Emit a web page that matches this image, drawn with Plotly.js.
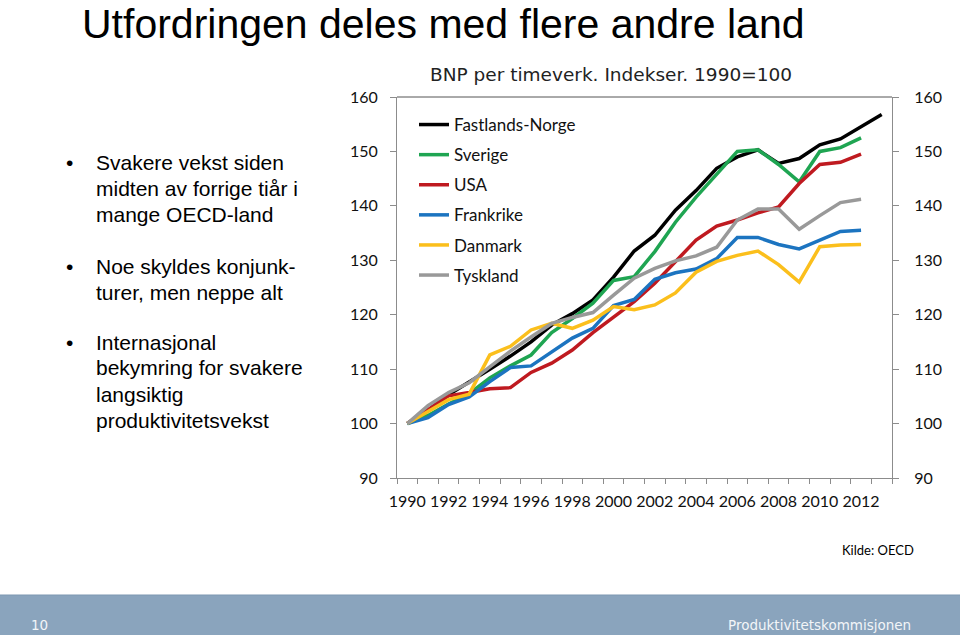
<!DOCTYPE html>
<html>
<head>
<meta charset="utf-8">
<script src="https://cdn.plot.ly/plotly-3.0.1.min.js"></script>
<style>
html,body{margin:0;padding:0;background:#fff;}
#chart{width:960px;height:635px;}
</style>
</head>
<body>
<div id="chart"></div>
<script>
// ---- data ----
const years = [1990,1991,1992,1993,1994,1995,1996,1997,1998,1999,2000,2001,2002,2003,2004,2005,2006,2007,2008,2009,2010,2011,2012,2013];
const norway  = [100,102.4,105.3,107.6,110.0,112.4,115.0,118.1,120.2,122.7,126.9,131.7,134.6,139.2,142.8,146.9,149.0,150.3,147.8,148.7,151.2,152.3,154.5,156.8];
const sweden  = [100,101.5,103.6,105.5,108.4,110.6,112.6,116.7,119.3,122.1,126.3,127.0,131.6,137.0,141.6,145.8,150.0,150.3,147.6,144.4,150.0,150.7,152.5];
const usa     = [100,102.5,105.1,105.7,106.4,106.6,109.4,111.1,113.5,116.7,119.6,122.4,125.8,129.7,133.7,136.3,137.4,138.7,139.8,144.1,147.6,148.0,149.5];
const france  = [100,101.1,103.5,104.9,107.7,110.3,110.6,113.1,115.7,117.5,121.7,122.8,126.5,127.7,128.4,130.3,134.2,134.2,132.9,132.1,133.7,135.3,135.5];
const denmark = [100,102.2,104.4,105.4,112.6,114.2,117.2,118.4,117.5,119.0,121.5,120.9,121.8,124.0,127.8,129.8,130.9,131.7,129.2,126.0,132.5,132.8,132.9];
const germany = [100,103.3,105.7,107.5,110.4,113.3,115.9,118.4,119.5,120.4,123.6,126.7,128.5,129.9,130.8,132.4,137.4,139.4,139.4,135.7,138.2,140.6,141.2];

const seriesNames = ["Fastlands-Norge","Sverige","USA","Frankrike","Danmark","Tyskland"];
const seriesData  = [norway, sweden, usa, france, denmark, germany];
const seriesColors = ["#000000","#1fa552","#bf1a20","#1c74c0","#fbbf1c","#999999"];

const yTicks = [90,100,110,120,130,140,150,160];
const xLabels = [1990,1992,1994,1996,1998,2000,2002,2004,2006,2008,2010,2012];

const heading = "Utfordringen deles med flere andre land";
const chartTitle = "BNP per timeverk. Indekser. 1990=100";
const bullets = [
  ["Svakere vekst siden","midten av forrige tiår i","mange OECD-land"],
  ["Noe skyldes konjunk-","turer, men neppe alt"],
  ["Internasjonal","bekymring for svakere","langsiktig","produktivitetsvekst"]
];
const source = "Kilde: OECD";
const pageNo = "10";
const org = "Produktivitetskommisjonen";

// ---- layout geometry ----
const L = 397, R = 892, T = 97, B = 478;
const W = R - L, H = B - T;
const px = x => (x - L) / W;
const py = y => (B - y) / H;

const traces = seriesNames.map((name, i) => ({
  type: 'scatter', mode: 'lines', name: name,
  x: years.slice(0, seriesData[i].length), y: seriesData[i],
  line: {color: seriesColors[i], width: 3.5},
  legendgroup: 'g' + i,
  xaxis: 'x', yaxis: 'y'
}));
traces.push({type:'scatter', x:[], y:[], xaxis:'x2', yaxis:'y2', showlegend:false, hoverinfo:'skip'});

const annotations = [];
annotations.push({text: heading, xref:'paper', yref:'paper', x: px(81), y: py(0),
  xanchor:'left', yanchor:'top', showarrow:false, borderpad:0,
  font:{family:'Liberation Sans, Arial', size:41, color:'#000'}});

const bulletStarts = [162, 266, 342];
bullets.forEach((group, g) => {
  annotations.push({text:'•', xref:'paper', yref:'paper', x: px(64), y: py(bulletStarts[g]),
    xanchor:'left', yanchor:'middle', showarrow:false,
    font:{family:'Liberation Sans, Arial', size:21, color:'#000'}});
  group.forEach((line, k) => {
    annotations.push({text: line, xref:'paper', yref:'paper', x: px(94), y: py(bulletStarts[g] + 26*k),
      xanchor:'left', yanchor:'middle', showarrow:false,
      font:{family:'Liberation Sans, Arial', size:21, color:'#000'}});
  });
});
annotations.push({text: source, xref:'paper', yref:'paper', x: px(916), y: py(550),
  xanchor:'right', yanchor:'middle', showarrow:false,
  font:{family:'Lato, Open Sans', size:13, color:'#000'}});
annotations.push({text: pageNo, xref:'paper', yref:'paper', x: px(29), y: py(625),
  xanchor:'left', yanchor:'middle', showarrow:false,
  font:{family:'DejaVu Sans', size:13.5, color:'#f2f5f8'}});
annotations.push({text: org, xref:'paper', yref:'paper', x: px(913), y: py(625),
  xanchor:'right', yanchor:'middle', showarrow:false,
  font:{family:'DejaVu Sans', size:13.5, color:'#f2f5f8'}});

const shapes = [
  {type:'rect', xref:'paper', yref:'paper', x0: px(0), x1: px(960), y0: py(595), y1: py(636),
   fillcolor:'#8aa4bd', line:{width:0}, layer:'below'},
  {type:'line', xref:'paper', yref:'paper', x0: px(0), x1: px(960), y0: py(595), y1: py(595),
   line:{color:'#7c97b1', width:1}},
  {type:'line', xref:'paper', yref:'paper', x0: 0, x1: 1, y0: 1, y1: 1,
   line:{color:'#555', width:1}}
];

const tickFont = {family:'Lato, Open Sans', size:16, color:'#111'};

const layout = {
  width: 960, height: 635,
  margin: {l: L, r: 960 - R, t: T, b: 635 - B, pad: 0},
  paper_bgcolor:'#fff', plot_bgcolor:'#fff',
  showlegend: true,
  title: {text: chartTitle, font:{family:'DejaVu Sans', size:18.5, color:'#222'},
    xref:'container', yref:'container', x: 611/960, y: 1 - 75/635, xanchor:'center', yanchor:'middle'},
  xaxis: {range:[1989.5, 2013.5], tick0: 1989.5, dtick: 1, ticks:'outside', ticklen:5, tickcolor:'#8c8c8c',
    showticklabels:false, showgrid:false, zeroline:false, showline:true, linecolor:'#8c8c8c', linewidth:1, fixedrange:true},
  xaxis2: {overlaying:'x', anchor:'y', side:'bottom', range:[1989.5, 2013.5], tickmode:'array', tickvals: xLabels,
    ticktext: xLabels.map(String), ticks:'', showgrid:false, zeroline:false, showline:false,
    tickfont: tickFont, ticklabelstandoff: 12},
  yaxis: {range:[90,160], tickmode:'array', tickvals: yTicks, ticks:'outside', ticklen:6, tickcolor:'#8c8c8c',
    showgrid:false, zeroline:false, showline:true, linecolor:'#8c8c8c', linewidth:1, tickfont: tickFont,
    ticklabelstandoff: 9},
  yaxis2: {overlaying:'y', side:'right', anchor:'x', range:[90,160], tickmode:'array', tickvals: yTicks, ticks:'outside', ticklen:6,
    tickcolor:'#8c8c8c', showgrid:false, zeroline:false, showline:true, linecolor:'#8c8c8c', linewidth:1, tickfont: tickFont,
    ticklabelstandoff: 12},
  legend: {x: px(414), y: py(107), xanchor:'left', yanchor:'top', bgcolor:'rgba(0,0,0,0)',
    font:{family:'Lato, Open Sans', size:17, color:'#111'}, traceorder:'grouped', tracegroupgap: 5},
  annotations: annotations,
  shapes: shapes
};

Plotly.newPlot('chart', traces, layout, {staticPlot:true, displayModeBar:false});
</script>
</body>
</html>
